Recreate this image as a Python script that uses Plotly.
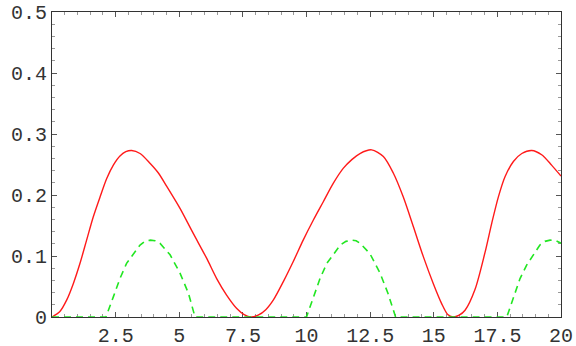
import plotly.graph_objects as go

# solid red curve
red_x = [0, 0.31, 0.58, 0.84, 1.10, 1.36, 1.62, 1.89, 2.15, 2.41, 2.67, 2.90, 3.13, 3.46,
         3.85, 4.18, 4.51, 5.03, 5.55, 6.08, 6.47, 6.86, 7.26, 7.55, 7.82, 8.10, 8.40,
         8.70, 9.09, 9.48, 9.87, 10.27, 10.66, 11.05, 11.45, 11.78, 12.10, 12.56, 13.02,
         13.41, 13.80, 14.20, 14.59, 14.98, 15.31, 15.55, 15.75, 16.00, 16.23, 16.62,
         17.01, 17.28, 17.54, 17.80, 18.13, 18.46, 18.85, 19.24, 19.63, 20.0]
red_y = [0, 0.009, 0.028, 0.055, 0.088, 0.126, 0.164, 0.197, 0.227, 0.249, 0.264, 0.271,
         0.273, 0.268, 0.252, 0.236, 0.214, 0.178, 0.137, 0.096, 0.063, 0.036, 0.014,
         0.004, 0, 0.003, 0.012, 0.028, 0.058, 0.091, 0.126, 0.159, 0.189, 0.219, 0.244,
         0.258, 0.268, 0.274, 0.263, 0.236, 0.197, 0.148, 0.099, 0.055, 0.022, 0.004, 0,
         0.003, 0.011, 0.045, 0.105, 0.154, 0.197, 0.230, 0.255, 0.268, 0.273, 0.266,
         0.249, 0.231]

# dashed green curve
green_x = [0, 2.12, 2.41, 2.67, 2.93, 3.20, 3.46, 3.65, 3.87, 4.05, 4.24, 4.64, 5.03,
           5.36, 5.62, 10.0, 10.27, 10.53, 10.80, 11.07, 11.33, 11.55, 11.76, 11.95,
           12.10, 12.49, 12.89, 13.20, 13.50, 17.87, 18.13, 18.39, 18.65, 18.91, 19.17,
           19.37, 19.57, 19.80, 20.0]
green_y = [0, 0, 0.033, 0.063, 0.088, 0.104, 0.118, 0.124, 0.126, 0.125, 0.121, 0.102,
           0.072, 0.039, 0, 0, 0.033, 0.063, 0.088, 0.104, 0.118, 0.124, 0.126, 0.125,
           0.121, 0.104, 0.072, 0.039, 0, 0, 0.033, 0.063, 0.085, 0.102, 0.118, 0.124,
           0.126, 0.125, 0.121]

x_ticks = [2.5, 5, 7.5, 10, 12.5, 15, 17.5, 20]
x_labels = ["2.5", "5", "7.5", "10", "12.5", "15", "17.5", "20"]
y_ticks = [0, 0.1, 0.2, 0.3, 0.4, 0.5]
y_labels = ["0", "0.1", "0.2", "0.3", "0.4", "0.5"]

fig = go.Figure()
fig.add_trace(go.Scatter(x=red_x, y=red_y, mode="lines", cliponaxis=False,
                         line=dict(color="#ff1a1a", width=1.4, shape="spline", smoothing=0.8)))
fig.add_trace(go.Scatter(x=green_x, y=green_y, mode="lines", cliponaxis=False,
                         line=dict(color="#22e622", width=1.6, dash="7px,5px")))

axis_common = dict(showgrid=False, zeroline=False, showline=True, linecolor="#333333",
                   linewidth=1, mirror="ticks", ticks="inside", ticklen=5, tickwidth=1,
                   tickcolor="#555555", layer="below traces", automargin=False,
                   tickfont=dict(family="Liberation Mono", size=20, color="#333333"))

fig.update_xaxes(range=[0, 20], tickmode="array", tickvals=x_ticks, ticktext=x_labels,
                 minor=dict(dtick=0.5, ticks="inside", ticklen=3, tickcolor="#999999"),
                 **axis_common)
fig.update_yaxes(range=[0, 0.5], tickmode="array", tickvals=y_ticks, ticktext=y_labels,
                 minor=dict(dtick=0.02, ticks="inside", ticklen=3, tickcolor="#999999"),
                 **axis_common)

fig.update_layout(width=576, height=346, showlegend=False,
                  margin=dict(l=52, r=15, t=12, b=29),
                  plot_bgcolor="white", paper_bgcolor="white")

# the page body has a default 8px margin; drop it so the figure sits at the corner
fig.write_html("out.html", config={"displayModeBar": False},
               post_script="document.body.style.margin='0';document.body.style.overflow='hidden';")
